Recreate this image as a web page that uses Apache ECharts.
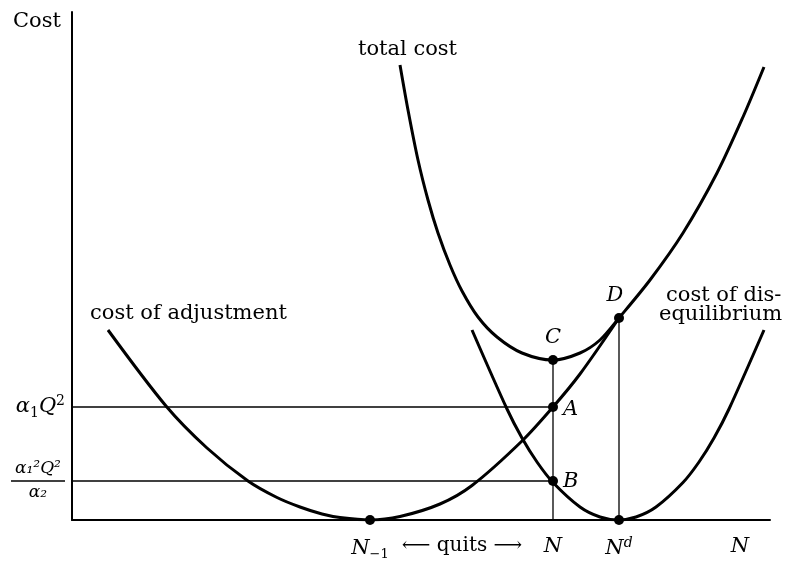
<!DOCTYPE html>
<html>
<head>
<meta charset="utf-8">
<script src="https://cdn.jsdelivr.net/npm/echarts@6/dist/echarts.min.js"></script>
<style>html,body{margin:0;background:#fff}#main{width:789px;height:562px}</style>
</head>
<body>
<div id="main"></div>
<script>
// curves: [N, cost]
var adjustment = [[36,190],[94,114],[135,72],[176,39],[205,22.5],[228,13],[250,6],[268,2.5],[298,0],[328,3.5],[368,16],[400,34.5],[450,79],[481,113],[508,146],[547,202]];
var disequilibrium = [[400,190],[435,111],[450,82],[465,58],[481,37.5],[508,13],[528,3],[546,0],[564,3],[584,13],[611,37.5],[627,58],[642,82],[657,111],[692,190]];
var totalCost = [[328,455],[336,410],[346,360],[356,320],[366,287],[378,255],[390,229],[406,203],[425,183],[450,167],[481,160],[508,167],[528,180],[547,202],[578,240],[611,287],[645,347],[671,403],[692,453]];

var levelA = 113, levelB = 39;
var xPrev = 298, xN = 481, xNd = 547;
var yC = 160, yD = 202;

var pointNames = ['', 'C', 'A', 'B', 'D', ''];
var pointX = [xPrev, xN, xN, xN, xNd, xNd];
var pointY = [0, yC, levelA, levelB, yD, 0];

var xTickValues = [298, 390, 481, 547, 668];
var xTickLabels = ['{i|N}{s|−1}', '{r|⟵ quits ⟶}', '{i|N}', '{i|N}{p|d}', '{i|N}'];
var yTickValues = [levelB, levelA];

var serif = 'DejaVu Serif';
var myChart = echarts.init(document.getElementById('main'));

var labelPos = {C: 'top', A: 'right', B: 'right', D: 'top'};
var labelOff = {C: [0, -2], A: [0, 3], B: [0, 1], D: [-4, -2]};

function curve(name, data) {
    return {
        name: name,
        type: 'line',
        data: data,
        smooth: 0.3,
        showSymbol: false,
        lineStyle: {color: '#000', width: 3},
        silent: true
    };
}
function guide(data) {
    return {
        type: 'line',
        data: data,
        showSymbol: false,
        lineStyle: {color: '#000', width: 1.3},
        silent: true
    };
}

var option = {
    animation: false,
    backgroundColor: '#fff',
    grid: {left: 72, right: 19, top: 12, bottom: 42},
    xAxis: {
        type: 'value',
        min: 0,
        max: 698,
        splitLine: {show: false},
        axisTick: {show: false},
        axisLine: {lineStyle: {color: '#000', width: 2}},
        axisLabel: {
            customValues: xTickValues,
            margin: 16,
            formatter: function (v) { return xTickLabels[xTickValues.indexOf(v)]; },
            rich: {
                i: {fontFamily: serif, fontStyle: 'italic', fontSize: 21, color: '#000'},
                r: {fontFamily: serif, fontSize: 20, color: '#000'},
                s: {fontFamily: serif, fontSize: 13, color: '#000', padding: [12, 0, 0, 0]},
                p: {fontFamily: serif, fontStyle: 'italic', fontSize: 14, color: '#000', padding: [0, 0, 12, 0]}
            }
        }
    },
    yAxis: {
        type: 'value',
        min: 0,
        max: 508,
        splitLine: {show: false},
        axisTick: {show: false},
        axisLine: {lineStyle: {color: '#000', width: 2}},
        axisLabel: {
            customValues: yTickValues,
            margin: 7,
            formatter: function (v) {
                if (v === levelA) return '{i|α}{s|1}{i|Q}{p|2}';
                return '{n|α₁²Q²}\n{bar| }\n{d|α₂}';
            },
            rich: {
                i: {fontFamily: serif, fontStyle: 'italic', fontSize: 21, color: '#000'},
                s: {fontFamily: serif, fontSize: 14, color: '#000', padding: [12, 0, 0, 0]},
                p: {fontFamily: serif, fontSize: 14, color: '#000', padding: [0, 0, 12, 0]},
                n: {fontFamily: serif, fontStyle: 'italic', fontSize: 17, color: '#000', width: 54, align: 'center', lineHeight: 20},
                bar: {width: 54, height: 1.5, lineHeight: 4, backgroundColor: '#000', fontSize: 1},
                d: {fontFamily: serif, fontStyle: 'italic', fontSize: 17, color: '#000', width: 54, align: 'center', lineHeight: 20}
            }
        }
    },
    series: [
        guide([[0, levelA], [xN, levelA]]),
        guide([[0, levelB], [xN, levelB]]),
        guide([[xN, 0], [xN, yC]]),
        guide([[xNd, 0], [xNd, yD]]),
        curve('cost of adjustment', adjustment),
        curve('cost of disequilibrium', disequilibrium),
        curve('total cost', totalCost),
        {
            type: 'scatter',
            symbolSize: 10,
            itemStyle: {color: '#000', opacity: 1},
            z: 5,
            data: pointX.map(function (x, i) {
                var n = pointNames[i];
                return {
                    value: [x, pointY[i]],
                    label: {
                        show: n !== '',
                        formatter: n,
                        position: labelPos[n] || 'top',
                        offset: labelOff[n] || [0, 0],
                        fontFamily: serif,
                        fontStyle: 'italic',
                        fontSize: 21,
                        color: '#000'
                    }
                };
            })
        }
    ],
    graphic: [
        {type: 'text', left: 13, top: 11, style: {text: 'Cost', font: '21px "DejaVu Serif"', fill: '#000'}},
        {type: 'text', left: 358, top: 39, style: {text: 'total cost', font: '21px "DejaVu Serif"', fill: '#000'}},
        {type: 'text', left: 90, top: 303, style: {text: 'cost of adjustment', font: '21px "DejaVu Serif"', fill: '#000'}},
        {type: 'text', left: 666, top: 285, style: {text: 'cost of dis-', font: '21px "DejaVu Serif"', fill: '#000'}},
        {type: 'text', left: 659, top: 304, style: {text: 'equilibrium', font: '21px "DejaVu Serif"', fill: '#000'}}
    ]
};
myChart.setOption(option);
</script>
</body>
</html>
